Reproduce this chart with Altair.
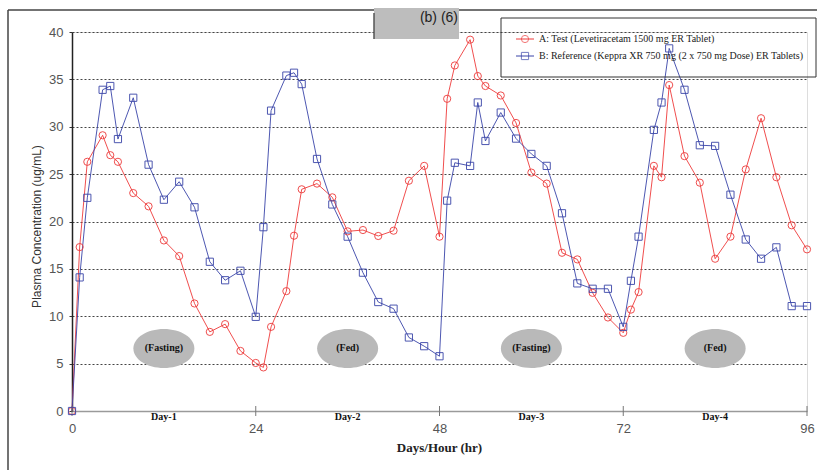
import altair as alt
import pandas as pd

# Sampling times (hours) shared by both treatments
hours = [0, 1, 2, 4, 5, 6, 8, 10, 12, 14, 16, 18, 20, 22, 24, 25, 26, 28, 29, 30,
         32, 34, 36, 38, 40, 42, 44, 46, 48, 49, 50, 52, 53, 54, 56, 58, 60, 62, 64, 66,
         68, 70, 72, 73, 74, 76, 77, 78, 80, 82, 84, 86, 88, 90, 92, 94, 96]

# A: Test (Levetiracetam 1500 mg ER tablet), ug/mL
conc_test = [0, 17.3, 26.3, 29.1, 27.0, 26.3, 23.0, 21.6, 18.0, 16.35,
             11.35, 8.35, 9.17, 6.34, 5.07, 4.6, 8.88, 12.65, 18.5, 23.4,
             24.0, 22.55, 18.96, 19.1, 18.47, 19.03, 24.3, 25.87, 18.4, 32.95,
             36.47, 39.19, 35.35, 34.3, 33.3, 30.4, 25.16, 24.0, 16.7, 16.0,
             12.47, 9.87, 8.25, 10.7, 12.55, 25.87, 24.67, 34.4, 26.9, 24.1,
             16.07, 18.4, 25.5, 30.9, 24.67, 19.6, 17.06]

# B: Reference (Keppra XR 2 x 750 mg), ug/mL
conc_ref = [0, 14.1, 22.5, 33.9, 34.3, 28.7, 33.06, 26.0, 22.3, 24.2,
            21.5, 15.75, 13.8, 14.8, 9.94, 19.4, 31.7, 35.4, 35.7, 34.5,
            26.6, 21.8, 18.4, 14.6, 11.5, 10.8, 7.76, 6.84, 5.78, 22.2,
            26.2, 25.87, 32.56, 28.5, 31.5, 28.75, 27.13, 25.87, 20.87, 13.47,
            12.9, 12.9, 8.88, 13.74, 18.4, 29.67, 32.56, 38.27, 33.9, 28.05,
            27.98, 22.83, 18.1, 16.07, 17.27, 11.07, 11.07]

series_names = ["A: Test (Levetiracetam 1500 mg ER Tablet)",
                "B: Reference (Keppra XR 750 mg (2 x 750 mg Dose) ER Tablets)"]
series_colors = ["#ee3b3b", "#3a45a8"]
series_shapes = ["circle", "square"]

x_ticks = [0, 24, 48, 72, 96]
day_centers = [12, 36, 60, 84]
day_labels = ["Day-1", "Day-2", "Day-3", "Day-4"]
meal_labels = ["(Fasting)", "(Fed)", "(Fasting)", "(Fed)"]
meal_level = 6.6

SERIF = "Liberation Serif"
SANS = "Liberation Sans"

df = pd.DataFrame({
    "hour": hours * 2,
    "conc": conc_test + conc_ref,
    "series": [series_names[0]] * len(hours) + [series_names[1]] * len(hours),
})
days = pd.DataFrame({"hour": day_centers, "day": day_labels,
                     "meal": meal_labels, "level": [meal_level] * 4})
ticks = pd.DataFrame({"hour": x_ticks})
one = pd.DataFrame({"k": [0]})

xscale = alt.Scale(domain=[0, 96], nice=False, zero=False)
yscale = alt.Scale(domain=[0, 40], nice=False)
color = alt.Color("series:N", scale=alt.Scale(domain=series_names, range=series_colors), legend=None)
shape = alt.Shape("series:N", scale=alt.Scale(domain=series_names, range=series_shapes), legend=None)

x_axis = alt.Axis(values=x_ticks, title="Days/Hour (hr)", grid=False, ticks=False, tickSize=0,
                  labelFlush=False,
                  domainColor="#9a9a9a", domainWidth=1.5,
                  labelFont=SANS, labelFontSize=13, labelColor="#555555", labelPadding=11,
                  titleFont=SERIF, titleFontSize=13, titleFontWeight="bold", titleColor="#222222",
                  titleX=367, titleY=36, titleBaseline="middle")
y_axis = alt.Axis(values=list(range(0, 41, 5)), title="Plasma Concentration (ug/mL)",
                  grid=True, gridDash=[2, 2], gridColor="#444444", gridWidth=1,
                  gridOpacity=alt.condition("datum.value == 0", alt.value(0), alt.value(1)),
                  domainColor="#222222", domainWidth=1.5, tickColor="#333333", tickSize=3,
                  labelFont=SANS, labelFontSize=13, labelColor="#555555", labelPadding=6,
                  titleFont=SANS, titleFontSize=12, titleFontWeight="normal", titleColor="#333333",
                  titleX=-36, titleY=194, titleAngle=-90, titleAlign="center", titleBaseline="middle")

# outer frame and the grey redaction box
frame_left = alt.Chart(one).mark_rule(color="#444444", strokeWidth=1.5).encode(
    x=alt.value(-64), y=alt.value(-22), y2=alt.value(440))
frame_top = alt.Chart(one).mark_rule(color="#444444", strokeWidth=1.5).encode(
    x=alt.value(-64), x2=alt.value(746), y=alt.value(-22))
grey_box = alt.Chart(one).mark_rect(color="#bdbdbd").encode(
    x=alt.value(302), x2=alt.value(387), y=alt.value(-24), y2=alt.value(7))
grey_edge = alt.Chart(one).mark_rule(color="#555555", strokeWidth=1.5).encode(
    x=alt.value(302), y=alt.value(-19), y2=alt.value(7))
grey_text = alt.Chart(one).mark_text(align="right", baseline="alphabetic", font=SANS,
                                     fontSize=14, color="#222222").encode(
    x=alt.value(386), y=alt.value(-10), text=alt.value("(b) (6)"))

# meal-condition ellipses and day labels
ellipse = alt.Chart(days).mark_point(
    shape="M-1,0A1,0.64 0 1,0 1,0A1,0.64 0 1,0 -1,0Z", filled=True,
    color="#b9b9b9", opacity=1, size=3721).encode(
    x=alt.X("hour:Q", scale=xscale), y=alt.Y("level:Q", scale=yscale))
meal_text = alt.Chart(days).mark_text(font=SERIF, fontSize=10, fontWeight="bold",
                                      color="#111111", baseline="middle").encode(
    x=alt.X("hour:Q", scale=xscale), y=alt.Y("level:Q", scale=yscale), text="meal:N")
day_text = alt.Chart(days).mark_text(font=SERIF, fontSize=10, fontWeight="bold",
                                     color="#111111", baseline="top").encode(
    x=alt.X("hour:Q", scale=xscale), y=alt.value(380), text="day:N")
tick_marks = alt.Chart(ticks).mark_rule(color="#777777", strokeWidth=1).encode(
    x=alt.X("hour:Q", scale=xscale), y=alt.value(374), y2=alt.value(384))

# concentration curves
lines = alt.Chart(df).mark_line(strokeWidth=1, opacity=0.9).encode(
    x=alt.X("hour:Q", scale=xscale, axis=x_axis),
    y=alt.Y("conc:Q", scale=yscale, axis=y_axis),
    color=color, detail="series:N")
points = alt.Chart(df).mark_point(filled=False, size=52, strokeWidth=1, opacity=0.9).encode(
    x=alt.X("hour:Q", scale=xscale), y=alt.Y("conc:Q", scale=yscale),
    color=color, shape=shape)

# legend box (transparent, gridlines show through)
legend_box = alt.Chart(one).mark_rect(fill=None, stroke="#333333", strokeWidth=1).encode(
    x=alt.value(429), x2=alt.value(744), y=alt.value(-14), y2=alt.value(45))
legend_layers = [legend_box]
for i, (name, col, shp) in enumerate(zip(series_names, series_colors, series_shapes)):
    ly = 7 + 17 * i
    legend_layers.append(alt.Chart(one).mark_rule(color=col, strokeWidth=1).encode(
        x=alt.value(444), x2=alt.value(462), y=alt.value(ly)))
    legend_layers.append(alt.Chart(one).mark_point(shape=shp, filled=False, color=col,
                                                   size=52, strokeWidth=1).encode(
        x=alt.value(453), y=alt.value(ly)))
    legend_layers.append(alt.Chart(one).mark_text(align="left", baseline="middle", font=SERIF,
                                                  fontSize=10, color="#222222").encode(
        x=alt.value(467), y=alt.value(ly), text=alt.value(name)))

chart = alt.layer(
    lines, ellipse, meal_text, day_text, tick_marks, points,
    frame_left, frame_top, grey_box, grey_edge, grey_text,
    *legend_layers
).properties(
    width=735, height=379,
    autosize=alt.AutoSizeParams(type="none"),
    padding={"left": 72, "top": 32, "right": 10, "bottom": 59},
).configure_view(stroke=None).configure(background="white")

chart.save("out.html", embed_options={"renderer": "svg", "actions": False})
